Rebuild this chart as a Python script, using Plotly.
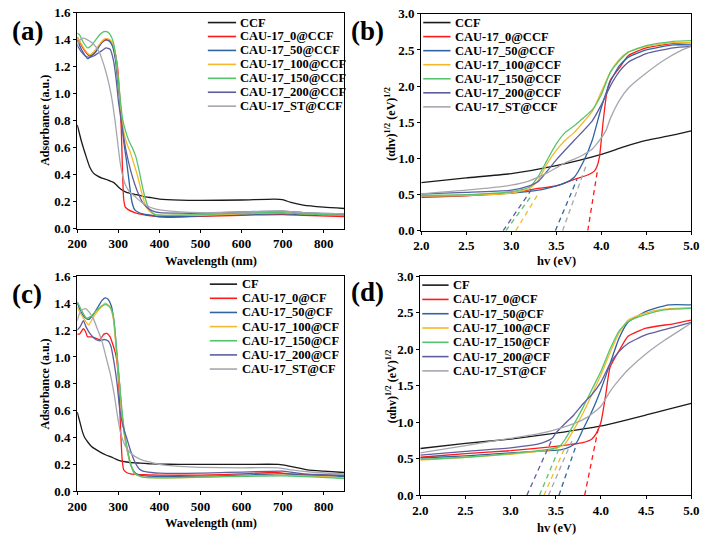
import plotly.graph_objects as go

W, H = 709, 545

# ---------------- colours / names ----------------
colors = ["#1a1a1a", "#ff1a1a", "#2f64a0", "#f7b92a", "#55c46e", "#5e5e9e", "#a6a6ae"]
names_a = ["CCF", "CAU-17_0@CCF", "CAU-17_50@CCF", "CAU-17_100@CCF",
           "CAU-17_150@CCF", "CAU-17_200@CCF", "CAU-17_ST@CCF"]
names_c = ["CF", "CAU-17_0@CF", "CAU-17_50@CF", "CAU-17_100@CF",
           "CAU-17_150@CF", "CAU-17_200@CF", "CAU-17_ST@CF"]

# ---------------- panel (a): absorbance vs wavelength (CCF) ----------------
a_ccf_x = [200,205,210,220,230,240,250,260,275,290,300,310,320,340,360,380,400,450,500,600,680,700,720,750,800,850]
a_ccf_y = [0.77,0.71,0.65,0.55,0.46,0.41,0.39,0.375,0.36,0.34,0.31,0.285,0.27,0.255,0.24,0.23,0.22,0.212,0.21,0.213,0.22,0.215,0.195,0.175,0.16,0.15]
a_0_x = [200,210,220,230,240,250,260,270,280,290,298,303,307,310,313,317,325,340,360,380,400,420,450,500,600,700,750,850]
a_0_y = [1.42,1.36,1.31,1.28,1.30,1.34,1.38,1.40,1.39,1.33,1.2,1.0,0.75,0.45,0.22,0.16,0.14,0.12,0.105,0.095,0.088,0.085,0.087,0.092,0.1,0.105,0.1,0.09]
a_50_x = [200,210,220,225,235,245,255,265,275,285,293,300,307,313,320,327,333,340,350,360,380,400,450,500,600,700,750,850]
a_50_y = [1.40,1.33,1.28,1.26,1.28,1.31,1.36,1.40,1.40,1.36,1.25,1.05,0.85,0.65,0.5,0.33,0.2,0.14,0.12,0.11,0.1,0.09,0.09,0.095,0.105,0.11,0.105,0.1]
a_100_x = [200,210,220,230,240,250,260,270,280,288,295,300,305,310,316,322,330,338,346,354,362,370,380,390,400,450,500,600,700,750,850]
a_100_y = [1.42,1.37,1.32,1.29,1.31,1.35,1.39,1.41,1.40,1.36,1.25,1.1,0.92,0.78,0.68,0.62,0.56,0.48,0.4,0.3,0.21,0.15,0.12,0.105,0.1,0.1,0.1,0.11,0.12,0.11,0.1]
a_150_x = [200,205,215,225,235,245,255,265,272,280,288,295,300,305,310,318,326,334,342,350,358,366,374,382,390,400,450,500,600,700,750,850]
a_150_y = [1.45,1.44,1.38,1.34,1.36,1.40,1.44,1.46,1.46,1.44,1.38,1.25,1.1,0.95,0.82,0.72,0.65,0.6,0.54,0.44,0.32,0.22,0.15,0.12,0.105,0.1,0.1,0.105,0.115,0.12,0.11,0.1]
a_200_x = [200,210,220,230,240,250,260,270,280,288,295,300,306,312,320,330,340,350,360,375,390,400,450,500,600,700,750,850]
a_200_y = [1.36,1.31,1.28,1.27,1.28,1.30,1.32,1.34,1.33,1.25,1.1,0.95,0.82,0.7,0.56,0.43,0.33,0.25,0.19,0.145,0.125,0.12,0.115,0.115,0.125,0.13,0.12,0.11]
a_st_x = [200,205,210,218,225,235,245,255,262,270,278,285,292,298,304,310,318,328,340,355,370,385,400,450,500,600,700,750,850]
a_st_y = [1.36,1.39,1.41,1.41,1.40,1.38,1.35,1.30,1.24,1.16,1.06,0.95,0.8,0.65,0.5,0.4,0.32,0.27,0.24,0.2,0.17,0.15,0.14,0.125,0.12,0.125,0.13,0.12,0.11]

# ---------------- panel (c): absorbance vs wavelength (CF) ----------------
c_cf_x = [200,206,212,218,226,234,246,258,270,282,294,305,320,340,353,375,393,450,500,600,690,720,760,800,850]
c_cf_y = [0.59,0.52,0.45,0.40,0.365,0.336,0.31,0.288,0.27,0.256,0.24,0.227,0.218,0.212,0.21,0.205,0.203,0.2,0.2,0.2,0.2,0.185,0.16,0.15,0.14]
c_0_x = [200,205,210,215,220,225,235,245,255,265,272,280,288,292,296,301,305,309,313,320,330,350,400,500,600,680,720,800,850]
c_0_y = [1.17,1.17,1.19,1.21,1.19,1.15,1.15,1.14,1.13,1.17,1.175,1.15,1.08,1.04,0.98,0.8,0.5,0.25,0.16,0.14,0.13,0.125,0.12,0.12,0.13,0.14,0.13,0.12,0.115]
c_50_x = [200,210,220,228,240,250,260,268,275,283,290,297,303,308,315,322,330,340,350,400,500,600,700,750,850]
c_50_y = [1.40,1.33,1.29,1.28,1.32,1.37,1.42,1.44,1.43,1.38,1.25,1.0,0.8,0.6,0.42,0.3,0.2,0.14,0.12,0.11,0.11,0.12,0.13,0.12,0.11]
c_100_x = [200,215,228,240,255,268,278,287,295,302,308,315,322,330,340,360,400,500,700,850]
c_100_y = [1.37,1.29,1.24,1.30,1.36,1.40,1.38,1.30,1.05,0.8,0.6,0.42,0.3,0.2,0.13,0.105,0.1,0.105,0.12,0.1]
c_150_x = [200,210,222,232,245,260,270,280,288,296,303,309,316,323,330,340,360,400,500,700,850]
c_150_y = [1.41,1.35,1.29,1.30,1.34,1.38,1.39,1.37,1.30,1.05,0.8,0.6,0.42,0.3,0.2,0.13,0.105,0.1,0.105,0.115,0.095]
c_200_x = [200,208,215,222,232,245,255,265,275,282,290,297,303,310,320,330,340,350,360,380,400,500,700,750,850]
c_200_y = [1.2,1.23,1.27,1.22,1.17,1.13,1.12,1.13,1.12,1.08,0.95,0.8,0.62,0.5,0.4,0.3,0.22,0.17,0.15,0.14,0.135,0.135,0.15,0.13,0.12]
c_st_x = [200,205,212,220,230,240,250,260,270,280,290,298,305,315,325,340,360,380,400,450,500,600,690,720,780,850]
c_st_y = [1.27,1.32,1.35,1.36,1.33,1.28,1.2,1.12,1.0,0.88,0.72,0.56,0.44,0.35,0.3,0.26,0.23,0.215,0.2,0.185,0.178,0.175,0.175,0.16,0.14,0.13]

# ---------------- panel (b): Tauc plot (CCF) ----------------
b_ccf_x = [2.0,2.5,3.0,3.5,4.0,4.25,4.5,4.75,5.0]
b_ccf_y = [0.665,0.73,0.79,0.9,1.055,1.16,1.25,1.31,1.38]
b_0_x = [2.0,2.5,3.0,3.25,3.5,3.7,3.85,3.92,3.95,3.98,4.02,4.06,4.1,4.2,4.3,4.5,4.8,5.0]
b_0_y = [0.46,0.48,0.52,0.575,0.62,0.71,0.77,0.82,0.88,1.02,1.5,1.9,2.08,2.25,2.42,2.53,2.59,2.6]
b_50_x = [2.0,2.5,3.0,3.3,3.5,3.6,3.7,3.8,3.9,4.0,4.1,4.2,4.3,4.5,4.8,5.0]
b_50_y = [0.48,0.49,0.52,0.56,0.62,0.66,0.74,0.95,1.25,1.7,2.06,2.28,2.4,2.5,2.57,2.57]
b_100_x = [2.0,2.5,3.0,3.2,3.3,3.4,3.5,3.6,3.7,3.8,3.9,4.0,4.1,4.2,4.3,4.5,4.8,5.0]
b_100_y = [0.48,0.49,0.52,0.58,0.7,0.93,1.11,1.25,1.36,1.5,1.65,1.92,2.19,2.37,2.47,2.55,2.6,2.6]
b_150_x = [2.0,2.5,3.0,3.2,3.3,3.4,3.5,3.6,3.7,3.8,3.9,4.0,4.1,4.2,4.3,4.5,4.8,5.0]
b_150_y = [0.49,0.5,0.54,0.6,0.75,0.98,1.2,1.36,1.45,1.56,1.67,1.88,2.19,2.35,2.47,2.56,2.62,2.63]
b_200_x = [2.0,2.5,3.0,3.2,3.3,3.5,3.7,3.9,4.0,4.1,4.2,4.3,4.5,4.8,5.0]
b_200_y = [0.51,0.53,0.56,0.62,0.68,0.98,1.25,1.52,1.74,2.0,2.2,2.33,2.45,2.53,2.55]
b_st_x = [2.0,2.5,3.0,3.2,3.4,3.5,3.6,3.7,3.8,3.9,3.95,4.05,4.1,4.2,4.3,4.5,4.7,4.9,5.0]
b_st_y = [0.51,0.56,0.63,0.69,0.8,0.87,0.94,0.99,1.05,1.13,1.2,1.38,1.55,1.8,1.97,2.18,2.36,2.5,2.55]

# tangent (extrapolation) lines for (b) and (d), one per CAU-17 sample (index 1..6)
b_tan_x = [None,[3.85,3.96],[3.49,3.73],[3.05,3.31],[2.94,3.21],[2.91,3.22],[3.57,3.84]]
b_tan_y = [None,[0,0.85],[0,0.71],[0,0.53],[0,0.46],[0,0.56],[0,0.93]]

# ---------------- panel (d): Tauc plot (CF) ----------------
d_cf_x = [2.0,2.5,3.0,3.5,4.0,4.5,4.75,5.0]
d_cf_y = [0.64,0.71,0.77,0.85,0.95,1.1,1.18,1.26]
d_0_x = [2.0,2.5,3.0,3.5,3.8,3.9,3.95,4.0,4.05,4.1,4.2,4.3,4.5,4.8,5.0]
d_0_y = [0.52,0.57,0.61,0.67,0.72,0.77,0.85,1.0,1.35,1.75,1.98,2.18,2.29,2.35,2.4]
d_50_x = [2.0,2.5,3.0,3.3,3.55,3.65,3.73,3.8,3.9,4.0,4.1,4.2,4.3,4.5,4.75,5.0]
d_50_y = [0.51,0.54,0.58,0.6,0.62,0.66,0.72,0.9,1.15,1.45,1.8,2.15,2.37,2.52,2.61,2.61]
d_100_x = [2.0,2.5,3.0,3.3,3.5,3.6,3.7,3.8,3.9,4.0,4.1,4.2,4.3,4.5,4.7,5.0]
d_100_y = [0.48,0.52,0.56,0.6,0.64,0.7,0.9,1.12,1.38,1.65,1.95,2.22,2.4,2.5,2.55,2.57]
d_150_x = [2.0,2.5,3.0,3.3,3.5,3.55,3.6,3.7,3.8,3.9,4.0,4.1,4.2,4.3,4.5,4.7,5.0]
d_150_y = [0.49,0.52,0.57,0.61,0.65,0.68,0.76,0.97,1.2,1.45,1.7,2.0,2.25,2.38,2.48,2.54,2.56]
d_200_x = [2.0,2.5,3.0,3.3,3.4,3.46,3.5,3.6,3.7,3.8,3.9,4.0,4.1,4.2,4.3,4.5,4.8,5.0]
d_200_y = [0.55,0.6,0.65,0.7,0.74,0.78,0.85,0.98,1.1,1.25,1.38,1.55,1.8,1.97,2.08,2.2,2.3,2.37]
d_st_x = [2.0,2.5,3.0,3.3,3.5,3.7,3.85,4.0,4.1,4.2,4.3,4.5,4.7,4.9,5.0]
d_st_y = [0.58,0.68,0.78,0.84,0.9,0.98,1.07,1.22,1.42,1.58,1.72,1.94,2.12,2.28,2.36]

d_tan_x = [None,[3.82,3.97],[3.535,3.73],[3.37,3.61],[3.32,3.55],[3.18,3.46],[3.42,3.68]]
d_tan_y = [None,[0,0.91],[0,0.70],[0,0.68],[0,0.68],[0,0.77],[0,0.75]]

panel_a = [(a_ccf_x,a_ccf_y),(a_0_x,a_0_y),(a_50_x,a_50_y),(a_100_x,a_100_y),
           (a_150_x,a_150_y),(a_200_x,a_200_y),(a_st_x,a_st_y)]
panel_b = [(b_ccf_x,b_ccf_y),(b_0_x,b_0_y),(b_50_x,b_50_y),(b_100_x,b_100_y),
           (b_150_x,b_150_y),(b_200_x,b_200_y),(b_st_x,b_st_y)]
panel_c = [(c_cf_x,c_cf_y),(c_0_x,c_0_y),(c_50_x,c_50_y),(c_100_x,c_100_y),
           (c_150_x,c_150_y),(c_200_x,c_200_y),(c_st_x,c_st_y)]
panel_d = [(d_cf_x,d_cf_y),(d_0_x,d_0_y),(d_50_x,d_50_y),(d_100_x,d_100_y),
           (d_150_x,d_150_y),(d_200_x,d_200_y),(d_st_x,d_st_y)]

FONT = "Liberation Serif"
fig = go.Figure()

def add_panel(series, names, xa, ya, tan_x=None, tan_y=None):
    for i, (xs, ys) in enumerate(series):
        fig.add_trace(go.Scatter(x=xs, y=ys, mode="lines", name=names[i],
                                 line=dict(color=colors[i], width=1.3, shape="spline", smoothing=0.5),
                                 xaxis=xa, yaxis=ya, showlegend=False))
    if tan_x is not None:
        for i in range(1, 7):
            fig.add_trace(go.Scatter(x=tan_x[i], y=tan_y[i], mode="lines",
                                     line=dict(color=colors[i], width=1.3, dash="5px,4px"),
                                     xaxis=xa, yaxis=ya, showlegend=False, hoverinfo="skip"))

add_panel(panel_a, names_a, "x", "y")
add_panel(panel_b, names_a, "x2", "y2", b_tan_x, b_tan_y)
add_panel(panel_c, names_c, "x3", "y3")
add_panel(panel_d, names_c, "x4", "y4", d_tan_x, d_tan_y)

def px_x(p):
    return p / W

def px_y(p):
    return 1 - p / H

# plot areas in pixels (left, right, top, bottom)
areas = {
    "1": (69, 343, 6, 228),
    "2": (422, 699, 7, 230),
    "3": (69, 343, 277, 498),
    "4": (421, 699, 277, 502),
}

tickfont = dict(family=FONT, size=13, color="black", weight="bold")
axis_common = dict(showgrid=False, zeroline=False, showline=True, mirror=True,
                   linecolor="black", linewidth=1.3, ticks="outside", ticklen=3,
                   tickwidth=1.2, tickcolor="black", tickfont=tickfont,
                   ticklabeloverflow="allow")
layout_axes = {}
for k, (l, r, t, b) in areas.items():
    sfx = "" if k == "1" else k
    if k in ("1", "3"):
        xr, xd, yr, yd, xf = [200, 850], 100, [0, 1.6], 0.2, None
    else:
        xr, xd, yr, yd, xf = [2, 5], 0.5, [0, 3], 0.5, ".1f"
    layout_axes["xaxis" + sfx] = dict(axis_common, domain=[px_x(l), px_x(r)], range=xr, dtick=xd,
                                      tick0=xr[0], anchor="y" + sfx, tickformat=xf)
    layout_axes["yaxis" + sfx] = dict(axis_common, domain=[px_y(b), px_y(t)], range=yr, dtick=yd,
                                      tick0=0, anchor="x" + sfx, tickformat=".1f")

fig.update_layout(width=W, height=H, margin=dict(l=0, r=0, t=0, b=0),
                  plot_bgcolor="white", paper_bgcolor="white", showlegend=False,
                  **layout_axes)

annotations = []
shapes = []

def ann(text, x, y, size, angle=0, xanchor="center"):
    annotations.append(dict(text=text, x=px_x(x), y=px_y(y), xref="paper", yref="paper",
                            showarrow=False, xanchor=xanchor, yanchor="middle", textangle=angle,
                            borderpad=0,
                            font=dict(family=FONT, size=size, color="black", weight="bold")))

# panel letters
ann("(a)", 1, 25, 27, xanchor="left")
ann("(b)", 349, 25, 27, xanchor="left")
ann("(c)", 1, 295, 27, xanchor="left")
ann("(d)", 349, 293, 27, xanchor="left")

# axis titles
ann("Wavelength (nm)", 206, 261, 12.5)
ann("Adsorbance (a.u.)", 36, 117, 12, angle=-90)
ann("hv (eV)", 561, 261, 12.5)
ann("(αhv)<sup>1/2</sup> (eV)<sup>1/2</sup>", 391, 120, 12, angle=-90)
ann("Wavelength (nm)", 206, 531, 12.5)
ann("Adsorbance (a.u.)", 36, 388, 12, angle=-90)
ann("hv (eV)", 561, 536, 12.5)
ann("(αhv)<sup>1/2</sup> (eV)<sup>1/2</sup>", 391, 390, 12, angle=-90)

# legends (line x0, line x1, text x, first row y, row step)
legend_pos = [
    (names_a, 203, 232, 235, 16, 14.33),
    (names_a, 424, 452, 456, 16, 14.45),
    (names_c, 205, 233, 237, 285, 14.55),
    (names_c, 423, 450, 454, 286, 14.7),
]
for names, x0, x1, xt, y0, step in legend_pos:
    for i, nm in enumerate(names):
        yy = y0 + i * step
        shapes.append(dict(type="line", xref="paper", yref="paper",
                           x0=px_x(x0), x1=px_x(x1), y0=px_y(yy), y1=px_y(yy),
                           line=dict(color=colors[i], width=1.6)))
        ann(nm, xt, yy, 12.5, xanchor="left")

fig.update_layout(annotations=annotations, shapes=shapes)
fig.write_html("out.html", config={"displayModeBar": False},
               post_script="document.body.style.margin='0';document.body.style.padding='0';document.body.style.overflow='hidden';")
